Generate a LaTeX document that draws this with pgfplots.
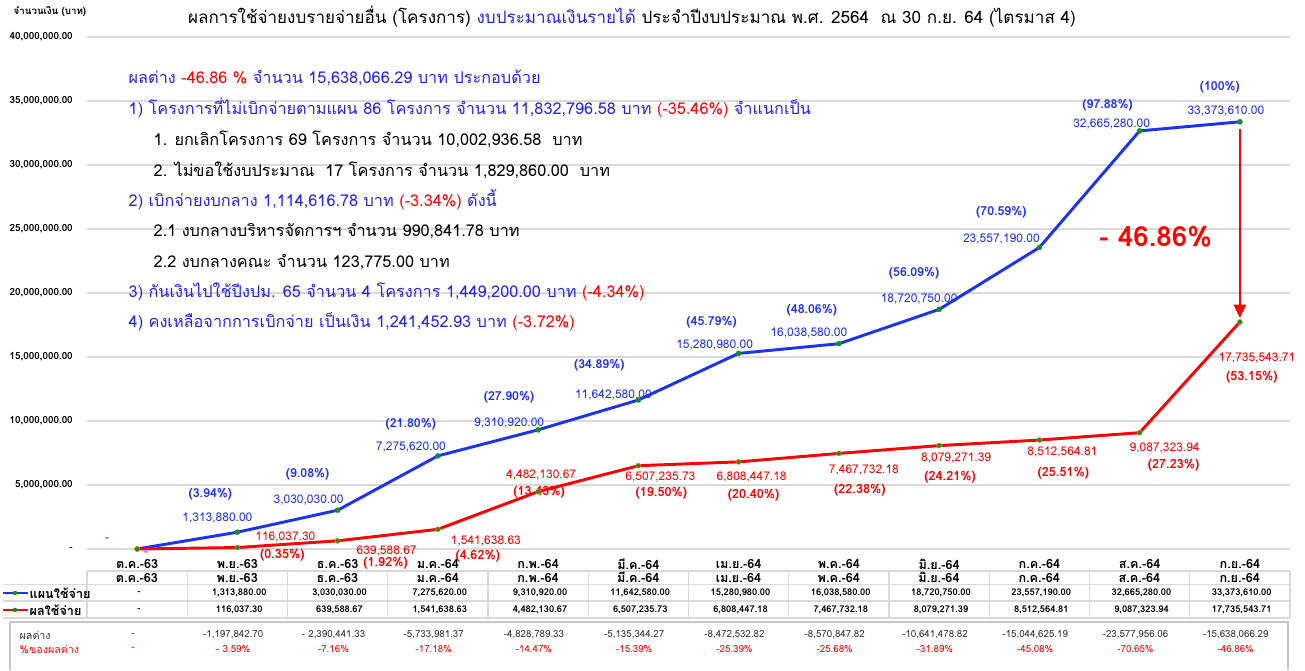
\documentclass[border=0pt]{standalone}
\usepackage{fontspec}
\setmainfont[Script=Thai]{Loma}
\usepackage{pgfplots}
\usepackage{pgfplotstable}
\pgfplotsset{compat=1.18}
\usetikzlibrary{arrows.meta}

\definecolor{pblue}{RGB}{30,50,245}
\definecolor{tblue}{RGB}{35,35,235}
\definecolor{pred}{RGB}{255,0,0}
\definecolor{mgreen}{RGB}{20,140,40}
\definecolor{gridc}{RGB}{217,217,217}

% x = month index, plan = planned spending, actual = actual spending
\pgfplotstableread{
x plan actual
0 0 0
1 1313880.00 116037.30
2 3030030.00 639588.67
3 7275620.00 1541638.63
4 9310920.00 4482130.67
5 11642580.00 6507235.73
6 15280980.00 6808447.18
7 16038580.00 7467732.18
8 18720750.00 8079271.39
9 23557190.00 8512564.81
10 32665280.00 9087323.94
11 33373610.00 17735543.71
}\data

% label at a data point, shifted by pixels (dx right, dy down)
\newcommand{\lab}[6]{\node[#5] at (axis cs:#1,#2) [xshift={(#3)*0.75pt}, yshift={0pt-(#4)*0.75pt}] {#6};}
\tikzset{
  bv/.style={text=pblue, font=\fontsize{9}{10}\selectfont},
  bp/.style={text=pblue, font=\bfseries\fontsize{9.3}{10}\selectfont},
  rv/.style={text=pred, font=\fontsize{9}{10}\selectfont},
  rp/.style={text=pred, font=\bfseries\fontsize{9.5}{10}\selectfont},
}

\begin{document}
\begin{tikzpicture}
\begin{scope}[x=0.75pt,y=-0.75pt]
\path[use as bounding box] (0,0) rectangle (1305,663);
\end{scope}

\begin{axis}[
    at={(65.25pt,-411.75pt)}, anchor=south west,
    scale only axis, width=902.25pt, height=384pt,
    xmin=-0.5, xmax=11.5, ymin=0, ymax=40000000,
    axis line style={draw=none},
    major tick length=0pt,
    xtick={0,...,11},
    xticklabels={ต.ค.-63,พ.ย.-63,ธ.ค.-63,ม.ค.-64,ก.พ.-64,มี.ค.-64,เม.ย.-64,พ.ค.-64,มิ.ย.-64,ก.ค.-64,ส.ค.-64,ก.ย.-64},
    xticklabel style={font=\bfseries\fontsize{9.5}{10}\selectfont, anchor=center, yshift=-11.25pt},
    ytick={0,5000000,10000000,15000000,20000000,25000000,30000000,35000000,40000000},
    yticklabels={-,{5,000,000.00},{10,000,000.00},{15,000,000.00},{20,000,000.00},{25,000,000.00},{30,000,000.00},{35,000,000.00},{40,000,000.00}},
    yticklabel style={font=\bfseries\fontsize{7.4}{8}\selectfont, anchor=east, inner sep=0pt, xshift=-10.5pt},
    scaled y ticks=false,
    ymajorgrids, grid style={gridc, line width=0.8pt},
    clip=false,
]
\addplot[pblue, line width=2.2pt, mark=*, mark size=1.9pt,
    mark options={fill=mgreen, draw=mgreen, line width=0.3pt}] table[x=x, y=plan] {\data};
\addplot[pred, line width=2.2pt, mark=*, mark size=1.9pt,
    mark options={fill=mgreen, draw=orange, line width=0.4pt}] table[x=x, y=actual] {\data};

% arrow for the gap at the end of the year
\draw[pred, line width=2pt, -{Triangle[length=10pt, width=9pt]}]
    ([yshift=-5.5pt]axis cs:11,33373610) -- ([yshift=3pt]axis cs:11,17735543.71);
\node[text=pred, font=\bfseries\fontsize{20.8}{24}\selectfont] at (axis cs:10.16,24400000) {- 46.86\%};

% plan labels
\lab{0}{0}{-30}{-9}{bv}{-}
\lab{1}{1313880}{-20}{-14}{bv}{1,313,880.00}
\lab{2}{3030030}{-29}{-10}{bv}{3,030,030.00}
\lab{3}{7275620}{-27}{-9}{bv}{7,275,620.00}
\lab{4}{9310920}{-29}{-7}{bv}{9,310,920.00}
\lab{5}{11642580}{-25}{-5}{bv}{11,642,580.00}
\lab{6}{15280980}{-24}{-8}{bv}{15,280,980.00}
\lab{7}{16038580}{-30}{-11}{bv}{16,038,580.00}
\lab{8}{18720750}{-20}{-10}{bv}{18,720,750.00}
\lab{9}{23557190}{-38}{-8}{bv}{23,557,190.00}
\lab{10}{32665280}{-28}{-7}{bv}{32,665,280.00}
\lab{11}{33373610}{-14}{-11}{bv}{33,373,610.00}
\lab{1}{1313880}{-27}{-38}{bp}{(3.94\%)}
\lab{2}{3030030}{-30}{-36}{bp}{(9.08\%)}
\lab{3}{7275620}{-27}{-32}{bp}{(21.80\%)}
\lab{4}{9310920}{-29}{-33}{bp}{(27.90\%)}
\lab{5}{11642580}{-39}{-35}{bp}{(34.89\%)}
\lab{6}{15280980}{-27}{-31}{bp}{(45.79\%)}
\lab{7}{16038580}{-27}{-33}{bp}{(48.06\%)}
\lab{8}{18720750}{-25}{-36}{bp}{(56.09\%)}
\lab{9}{23557190}{-38}{-35}{bp}{(70.59\%)}
\lab{10}{32665280}{-32}{-26}{bp}{(97.88\%)}
\lab{11}{33373610}{-20}{-35}{bp}{(100\%)}

% actual labels
\lab{0}{0}{9}{5}{rv}{-}
\lab{1}{116037.30}{48}{-10}{rv}{116,037.30}
\lab{2}{639588.67}{49}{10}{rv}{639,588.67}
\lab{3}{1541638.63}{48}{12}{rv}{1,541,638.63}
\lab{4}{4482130.67}{3}{-17}{rv}{4,482,130.67}
\lab{5}{6507235.73}{22}{11}{rv}{6,507,235.73}
\lab{6}{6808447.18}{13}{15}{rv}{6,808,447.18}
\lab{7}{7467732.18}{25}{17}{rv}{7,467,732.18}
\lab{8}{8079271.39}{17}{12}{rv}{8,079,271.39}
\lab{9}{8512564.81}{23}{12}{rv}{8,512,564.81}
\lab{10}{9087323.94}{25}{15}{rv}{9,087,323.94}
\lab{11}{17735543.71}{17}{36}{rv}{17,735,543.71}
\lab{1}{116037.30}{45}{8}{rp}{(0.35\%)}
\lab{2}{639588.67}{48}{22}{rp}{(1.92\%)}
\lab{3}{1541638.63}{40}{27}{rp}{(4.62\%)}
\lab{4}{4482130.67}{1}{1}{rp}{(13.43\%)}
\lab{5}{6507235.73}{23}{28}{rp}{(19.50\%)}
\lab{6}{6808447.18}{15}{33}{rp}{(20.40\%)}
\lab{7}{7467732.18}{21}{37}{rp}{(22.38\%)}
\lab{8}{8079271.39}{11}{32}{rp}{(24.21\%)}
\lab{9}{8512564.81}{24}{33}{rp}{(25.51\%)}
\lab{10}{9087323.94}{34}{33}{rp}{(27.23\%)}
\lab{11}{17735543.71}{12}{55}{rp}{(53.15\%)}
\end{axis}

\begin{scope}[x=0.75pt,y=-0.75pt]
% title and axis caption
\node[anchor=west, font=\bfseries\fontsize{7.3}{8}\selectfont] at (9,12) {จำนวนเงิน (บาท)};
\node[font=\fontsize{12.8}{15}\selectfont] at (632,17) {ผลการใช้จ่ายงบรายจ่ายอื่น (โครงการ) \textcolor{tblue}{งบประมาณเงินรายได้} ประจำปีงบประมาณ พ.ศ. 2564 \ ณ 30 ก.ย. 64 (ไตรมาส 4)};

% explanation block
\begin{scope}[every node/.style={anchor=west, font=\fontsize{12.2}{14}\selectfont}]
\node[text=tblue] at (124,78) {ผลต่าง \textcolor{pred}{-46.86 \%} จำนวน 15,638,066.29 บาท ประกอบด้วย};
\node[text=tblue] at (124,108) {1) โครงการที่ไม่เบิกจ่ายตามแผน 86 โครงการ จำนวน 11,832,796.58 บาท \textcolor{pred}{(-35.46\%)} จำแนกเป็น};
\node at (149,139) {1. ยกเลิกโครงการ 69 โครงการ จำนวน 10,002,936.58 \ บาท};
\node at (149,170) {2. ไม่ขอใช้งบประมาณ \ 17 โครงการ จำนวน 1,829,860.00 \ บาท};
\node[text=tblue] at (124,200) {2) เบิกจ่ายงบกลาง 1,114,616.78 บาท \textcolor{pred}{(-3.34\%)} ดังนี้};
\node at (149,231) {2.1 งบกลางบริหารจัดการฯ จำนวน 990,841.78 บาท};
\node at (149,262) {2.2 งบกลางคณะ จำนวน 123,775.00 บาท};
\node[text=tblue] at (124,292) {3) กันเงินไปใช้ปีงปม. 65 จำนวน 4 โครงการ 1,449,200.00 บาท \textcolor{pred}{(-4.34\%)}};
\node[text=tblue] at (124,322) {4) คงเหลือจากการเบิกจ่าย เป็นเงิน 1,241,452.93 บาท \textcolor{pred}{(-3.72\%)}};
\end{scope}

% data table under the chart
\draw[gridc, line width=0.8pt] (87,571) -- (1290,571);
\draw[gridc, line width=0.8pt] (3,584.5) -- (1290,584.5);
\draw[gridc, line width=0.8pt] (3,601) -- (1290,601);
\draw[gridc, line width=0.8pt] (3,618) -- (1290,618);
\foreach \k in {0,...,12} \draw[gridc, line width=0.8pt] (87+100.25*\k,571) -- (87+100.25*\k,618);
\foreach \c [count=\i from 0] in {ต.ค.-63,พ.ย.-63,ธ.ค.-63,ม.ค.-64,ก.พ.-64,มี.ค.-64,เม.ย.-64,พ.ค.-64,มิ.ย.-64,ก.ค.-64,ส.ค.-64,ก.ย.-64}
  \node[font=\bfseries\fontsize{9.5}{10}\selectfont] at (137+100.25*\i,577.5) {\c};
\foreach \v [count=\i from 0] in {-,{1,313,880.00},{3,030,030.00},{7,275,620.00},{9,310,920.00},{11,642,580.00},{15,280,980.00},{16,038,580.00},{18,720,750.00},{23,557,190.00},{32,665,280.00},{33,373,610.00}}
  \node[font=\bfseries\fontsize{7}{8}\selectfont] at (139+100.25*\i,593) {\v};
\foreach \v [count=\i from 0] in {-,{116,037.30},{639,588.67},{1,541,638.63},{4,482,130.67},{6,507,235.73},{6,808,447.18},{7,467,732.18},{8,079,271.39},{8,512,564.81},{9,087,323.94},{17,735,543.71}}
  \node[font=\bfseries\fontsize{7}{8}\selectfont] at (139+100.25*\i,610) {\v};
% legend keys in the table
\draw[pblue, line width=2pt] (3,593) -- (28,593);
\fill[mgreen] (15,593) circle (2.3);
\node[anchor=west, inner sep=1pt, font=\bfseries\fontsize{9.5}{10}\selectfont] at (28,593) {แผนใช้จ่าย};
\draw[pred, line width=2pt] (3,610) -- (28,610);
\fill[mgreen] (15,610) circle (2.3);
\node[anchor=west, inner sep=1pt, font=\bfseries\fontsize{9.5}{10}\selectfont] at (28,610) {ผลใช้จ่าย};

% difference box
\draw[gray!45, line width=1.2pt] (10,670) -- (10,622) -- (1288,622) -- (1288,670);
\node[anchor=west, font=\fontsize{8}{9}\selectfont, text=black!80] at (15,635) {ผลต่าง};
\node[anchor=west, font=\fontsize{8}{9}\selectfont, text=pred] at (15,649) {\%ของผลต่าง};
\foreach \v [count=\i from 0] in {-,{-1,197,842.70},{- 2,390,441.33},{-5,733,981.37},{-4,828,789.33},{-5,135,344.27},{-8,472,532.82},{-8,570,847.82},{-10,641,478.82},{-15,044,625.19},{-23,577,956.06},{-15,638,066.29}}
  \node[font=\fontsize{7.3}{8}\selectfont, text=black!80] at (133+100.25*\i,635) {\v};
\foreach \v [count=\i from 0] in {-,{- 3.59\%},{-7.16\%},{-17.18\%},{-14.47\%},{-15.39\%},{-25.39\%},{-25.68\%},{-31.89\%},{-45.08\%},{-70.65\%},{-46.86\%}}
  \node[font=\fontsize{7.3}{8}\selectfont, text=pred] at (133+100.25*\i,649) {\v};
\end{scope}
\end{tikzpicture}
\end{document}
